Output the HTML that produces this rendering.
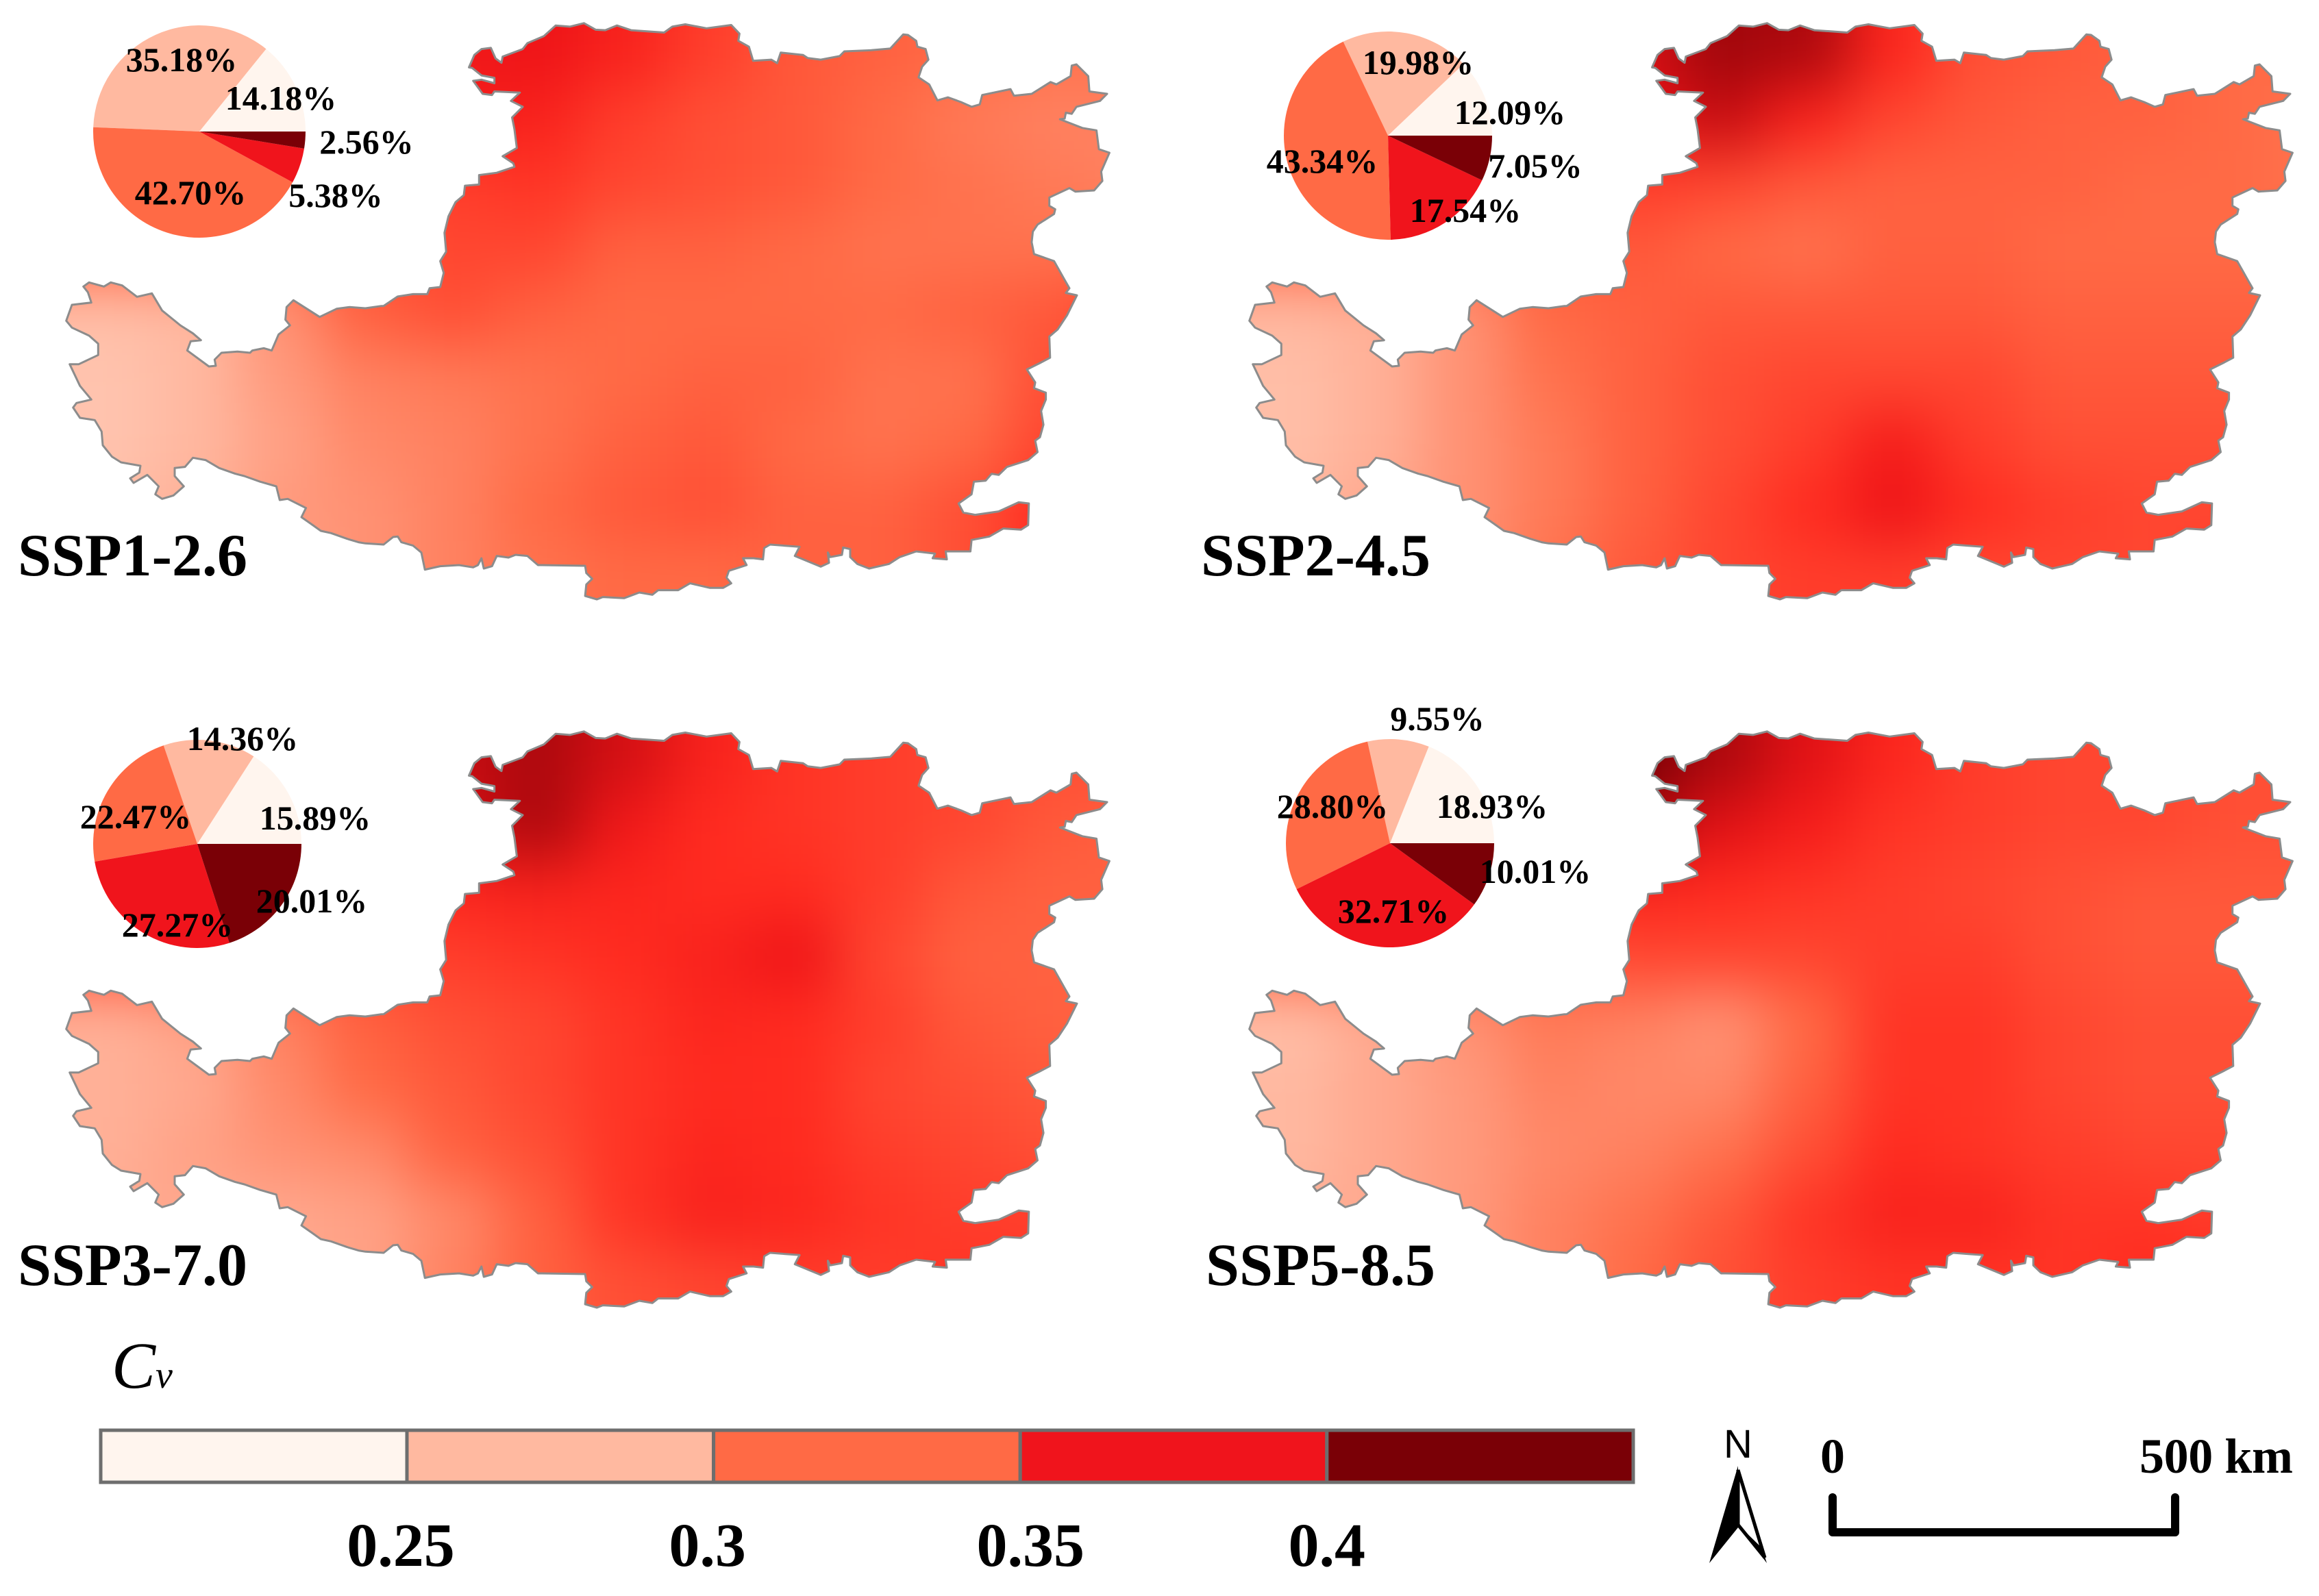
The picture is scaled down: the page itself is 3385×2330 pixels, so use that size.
<!DOCTYPE html>
<html lang="en">
<head>
<meta charset="utf-8">
<title>Cv maps under SSP scenarios</title>
<style>
html,body{margin:0;padding:0;background:#fff;}
svg{display:block;}
text{font-family:"Liberation Serif",serif;fill:#000;}
</style>
</head>
<body>
<svg id="figure" xmlns="http://www.w3.org/2000/svg" width="3385" height="2330" viewBox="0 0 3385 2330">
  <defs>
    <filter id="smooth" filterUnits="userSpaceOnUse" x="-300" y="-300" width="2300" height="1600" color-interpolation-filters="sRGB">
      <feGaussianBlur stdDeviation="42"/>
    </filter>
  </defs>
  <rect width="3385" height="2330" fill="#fff"/>
  <g id="panels"></g>

  <text x="163" y="2026" font-size="96" font-style="italic">C<tspan font-size="56">v</tspan></text>
  <g id="colorbar"></g>

  <g>
    <text x="2537" y="2128" font-size="58" text-anchor="middle" style="font-family:'Liberation Sans',sans-serif">N</text>
    <path d="M2537 2146 L2576 2274 L2537 2226 Z" fill="#fff" stroke="#000" stroke-width="5"/>
    <path d="M2537 2140 L2495 2282 L2537 2230 Z" fill="#000"/>
    <path d="M2537 2226 L2579 2282 L2572 2260 Z" fill="#000"/>
  </g>

  <g>
    <path d="M2675 2186 V2237 H3175 V2186" fill="none" stroke="#000" stroke-width="12" stroke-linecap="round" stroke-linejoin="round"/>
    <text x="2675" y="2150" font-size="72" font-weight="bold" text-anchor="middle">0</text>
    <text x="3123" y="2150" font-size="72" font-weight="bold" textLength="224">500 km</text>
  </g>
</svg>

<script>
// ---- Chart data ----
var scenarioNames = ["SSP1-2.6", "SSP2-4.5", "SSP3-7.0", "SSP5-8.5"];
var classNames = ["class-1", "class-2", "class-3", "class-4", "class-5"];
var classColors = ["#fff5ee", "#ffb9a0", "#ff6a45", "#f0141c", "#7a0006"];
var classBreaks = [0.25, 0.3, 0.35, 0.4];
var tickLabels = ["0.25", "0.3", "0.35", "0.4"];

var shareSsp126 = [14.18, 35.18, 42.70, 5.38, 2.56];
var shareSsp245 = [12.09, 19.98, 43.34, 17.54, 7.05];
var shareSsp370 = [15.89, 14.36, 22.47, 27.27, 20.01];
var shareSsp585 = [18.93, 9.55, 28.80, 32.71, 10.01];

// Cv field (rows north to south, columns west to east)
var cvSsp126 = [
 [.36,.36,.36,.37,.38,.385,.37,.35,.335,.33,.325,.32,.32],
 [.35,.35,.35,.36,.375,.37,.35,.34,.335,.325,.315,.31,.31],
 [.33,.33,.33,.345,.35,.355,.345,.34,.335,.325,.32,.315,.31],
 [.33,.33,.33,.34,.345,.345,.33,.33,.325,.32,.32,.32,.32],
 [.27,.275,.30,.33,.34,.33,.325,.325,.325,.325,.33,.335,.355],
 [.265,.275,.295,.31,.315,.32,.325,.33,.33,.32,.32,.34,.345],
 [.265,.275,.29,.305,.31,.32,.33,.335,.325,.32,.325,.345,.35],
 [.27,.28,.295,.30,.31,.325,.335,.34,.33,.33,.34,.36,.36],
 [.28,.285,.29,.30,.31,.32,.325,.325,.33,.33,.34,.36,.36]
];
var cvSsp245 = [
 [.38,.38,.38,.38,.395,.415,.41,.365,.34,.335,.33,.325,.325],
 [.37,.37,.37,.37,.385,.40,.37,.345,.335,.33,.33,.325,.32],
 [.34,.34,.34,.345,.35,.345,.335,.33,.33,.33,.325,.325,.32],
 [.33,.33,.33,.335,.335,.325,.32,.33,.33,.325,.325,.325,.325],
 [.275,.28,.30,.325,.33,.335,.335,.335,.335,.33,.33,.33,.33],
 [.27,.28,.30,.32,.33,.34,.345,.345,.345,.335,.335,.335,.335],
 [.27,.28,.30,.315,.33,.34,.35,.375,.35,.34,.34,.34,.34],
 [.275,.285,.30,.315,.33,.345,.36,.385,.36,.35,.345,.345,.345],
 [.29,.29,.30,.32,.335,.345,.35,.35,.345,.345,.345,.35,.35]
];
var cvSsp370 = [
 [.39,.39,.39,.39,.40,.41,.395,.37,.355,.35,.345,.34,.34],
 [.38,.38,.38,.385,.395,.41,.38,.36,.355,.35,.345,.335,.33],
 [.355,.355,.355,.355,.365,.37,.365,.36,.36,.35,.335,.33,.33],
 [.34,.34,.34,.345,.35,.355,.36,.37,.385,.345,.33,.33,.33],
 [.28,.29,.31,.33,.34,.345,.355,.365,.36,.35,.335,.33,.33],
 [.28,.285,.305,.325,.335,.345,.355,.36,.36,.345,.34,.335,.335],
 [.28,.29,.30,.305,.33,.34,.355,.365,.36,.35,.345,.34,.34],
 [.285,.285,.285,.29,.305,.33,.355,.37,.365,.355,.35,.35,.35],
 [.285,.285,.285,.29,.31,.33,.34,.345,.35,.35,.355,.35,.35]
];
var cvSsp585 = [
 [.44,.44,.44,.44,.44,.41,.39,.365,.35,.345,.345,.34,.34],
 [.41,.41,.41,.41,.41,.39,.375,.355,.35,.345,.345,.34,.34],
 [.35,.35,.35,.36,.365,.36,.355,.35,.345,.34,.335,.335,.335],
 [.33,.33,.33,.335,.345,.345,.345,.35,.35,.34,.335,.335,.335],
 [.27,.285,.30,.315,.31,.30,.325,.355,.355,.345,.34,.34,.34],
 [.275,.285,.295,.31,.305,.305,.33,.355,.355,.345,.34,.34,.34],
 [.275,.285,.295,.305,.31,.32,.34,.36,.355,.35,.345,.345,.345],
 [.28,.285,.295,.31,.32,.335,.355,.37,.37,.355,.355,.35,.35],
 [.285,.285,.295,.31,.325,.34,.35,.355,.355,.355,.36,.36,.36]
];

// ---- Layout (not data) ----
var SVGNS = "http://www.w3.org/2000/svg";
var layout = [
  {tx:0, ty:0, cx:291, cy:192, r:155, tX:26, tY:840, cv:cvSsp126, share:shareSsp126,
   lab:[[410,143],[265,87],[278,281],[490,285],[535,207]]},
  {tx:1727, ty:0, cx:2026, cy:198, r:152, tX:1753, tY:840, cv:cvSsp245, share:shareSsp245,
   lab:[[2204,164],[2070,91],[1930,235],[2139,307],[2241,242]]},
  {tx:0, ty:1034, cx:288, cy:1232, r:152, tX:26, tY:1876, cv:cvSsp370, share:shareSsp370,
   lab:[[460,1194],[354,1078],[198,1192],[259,1350],[455,1315]]},
  {tx:1727, ty:1034, cx:2029, cy:1231, r:152, tX:1760, tY:1876, cv:cvSsp585, share:shareSsp585,
   lab:[[2178,1177],[2098,1049],[1945,1177],[2034,1330],[2241,1272]]}
];

// Region outline, traced piecewise from the map (crop origin, crop scales, points)
var outlineTrace = [
 {ox:560, oy:20, kx:0.344, ky:0.344, pts:[[362,228],[385,175],[415,150],[455,145],[475,190],[500,208],[505,182],[590,150],[610,125],[680,95],[730,50],[790,55],[850,40],[900,68],[940,70],[990,50],[1050,70],[1190,80],[1225,55],[1280,45],[1370,62],[1475,48],[1510,85],[1505,115],[1550,140],[1568,200]]},
 {ox:1100, oy:20, kx:0.344, ky:0.344, pts:[[75,195],[100,210],[115,165],[210,175],[230,188],[285,195],[365,180],[385,160],[500,155],[580,148],[635,88],[655,90],[690,115],[695,140],[730,150],[742,195],[715,225],[700,270],[745,300],[780,368],[825,355],[880,375],[925,395],[960,385],[970,345],[1090,320],[1105,348],[1180,340],[1260,290],[1285,300],[1345,265],[1350,220],[1370,215],[1420,265],[1425,330],[1500,340],[1470,370],[1370,395],[1350,425],[1325,420],[1320,445],[1300,448],[1395,485],[1455,495],[1465,575],[1510,590],[1475,670],[1480,710],[1445,750],[1365,755],[1340,740],[1255,780],[1255,815],[1280,830],[1275,850],[1205,895],[1185,925],[1180,970],[1190,1020],[1275,1050],[1320,1130],[1340,1165],[1325,1185],[1372,1195],[1330,1280],[1290,1340],[1255,1370],[1258,1460],[1220,1480],[1160,1510]]},
 {ox:1100, oy:540, kx:0.344, ky:0.3333, pts:[[1195,55],[1190,80],[1240,100],[1240,130],[1220,180],[1230,240],[1215,295],[1195,310],[1205,360],[1165,395],[1075,425],[1040,460],[1010,455],[985,485],[935,490],[925,545],[870,585],[890,625],[940,635],[1040,620],[1125,580],[1168,585],[1165,680],[1135,700],[1060,695],[1000,730],[925,745],[920,795],[815,795],[820,830],[760,825],[770,805],[690,795],[620,820],[575,850],[490,870],[440,850],[410,820],[410,785],[380,778],[375,810],[325,820],[315,800],[320,845],[285,862],[175,815],[195,775],[130,770],[70,765],[45,780],[40,830],[0,825]]},
 {ox:560, oy:540, kx:0.344, ky:0.3333, pts:[[1525,825],[1540,855],[1465,880],[1455,910],[1475,935],[1440,955],[1385,955],[1300,935],[1250,965],[1165,965],[1140,985],[1085,975],[1020,1000],[930,995],[905,1005],[855,990],[860,940],[885,915],[860,890],[855,858],[670,855],[655,855],[610,815],[560,810],[530,822],[480,815],[460,860],[425,870],[415,825],[400,855],[380,865],[320,855],[240,860],[175,875],[160,800],[125,770],[75,755],[60,730],[40,732],[0,765]]},
 {ox:60, oy:380, kx:0.3333, ky:0.3333, pts:[[1420,1240],[1390,1235],[1340,1220],[1270,1195],[1225,1185],[1190,1160],[1140,1125],[1160,1085],[1080,1045],[1045,1050],[1030,990],[960,970],[890,945],[850,935],[780,910],[720,875],[665,865],[630,905],[585,910],[585,945],[625,990],[580,1030],[530,1045],[500,1025],[515,990],[465,940],[405,975],[390,955],[430,930],[435,900],[350,885],[310,860],[270,810],[265,750],[235,700],[170,690],[140,645],[155,625],[220,610],[170,550],[125,455],[165,455],[250,415],[250,365],[210,330],[135,295],[110,265],[135,195],[220,185],[205,140],[185,115],[210,97],[275,115],[305,97],[355,110],[420,160],[485,145],[530,220],[610,285],[665,320],[700,350],[655,355],[640,395],[735,465],[765,462],[760,435],[790,405],[860,400],[915,405],[925,395],[975,385],[1010,395],[1040,325],[1090,285],[1070,260],[1075,205],[1105,175],[1220,248],[1295,212],[1350,205],[1420,210],[1490,200]]},
 {ox:560, oy:20, kx:0.344, ky:0.344, pts:[[0,1240],[60,1200],[125,1190],[185,1190],[195,1165],[240,1160],[255,1100],[240,1050],[265,1010],[258,930],[275,860],[305,800],[340,770],[345,730],[405,725],[405,685],[480,675],[555,650],[550,635],[505,605],[565,570],[555,490],[545,440],[590,395],[540,370],[578,335],[470,330],[460,345],[420,340],[380,285],[415,280],[470,295],[470,272],[415,262],[375,230]]}
];

var outlineParts = [];
outlineTrace.forEach(function (seg) {
  seg.pts.forEach(function (pt) {
    var px = (seg.ox + pt[0] * seg.kx).toFixed(1);
    var py = (seg.oy + pt[1] * seg.ky).toFixed(1);
    outlineParts.push((outlineParts.length ? "L" : "M") + px + " " + py);
  });
});
var outlinePath = outlineParts.join(" ") + " Z";

// Axis functions for the Cv grid
var gridX0 = 98, gridCellW = 125, gridY0 = 30, gridCellH = 95;
function gridX(i) { return gridX0 + i * gridCellW; }
function gridY(j) { return gridY0 + j * gridCellH; }

// Continuous colour scale for Cv
var rampV = [0.22, 0.275, 0.325, 0.36, 0.385, 0.43];
var rampC = [[255,245,238],[255,184,160],[255,106,69],[255,43,32],[238,20,24],[122,0,6]];
function cvColor(v) {
  if (v <= rampV[0]) return "rgb(" + rampC[0].join(",") + ")";
  for (var k = 1; k < rampV.length; k++) {
    if (v <= rampV[k]) {
      var t = (v - rampV[k-1]) / (rampV[k] - rampV[k-1]);
      var c = rampC[k-1].map(function (a, n) { return Math.round(a + (rampC[k][n] - a) * t); });
      return "rgb(" + c.join(",") + ")";
    }
  }
  return "rgb(" + rampC[rampC.length-1].join(",") + ")";
}

function pieAngle(value, total) { return value / total * 2 * Math.PI; }

var panelsRoot = document.getElementById("panels");

layout.forEach(function (p, idx) {
  var slug = scenarioNames[idx].toLowerCase();

  var panel = document.createElementNS(SVGNS, "g");
  
  
  panelsRoot.appendChild(panel);

  // Map
  var map = document.createElementNS(SVGNS, "g");
  
  
  map.setAttribute("transform", "translate(" + p.tx + " " + p.ty + ")");
  panel.appendChild(map);

  var clip = document.createElementNS(SVGNS, "clipPath");
  clip.setAttribute("id", "clip" + idx);
  var clipShape = document.createElementNS(SVGNS, "path");
  clipShape.setAttribute("d", outlinePath);
  clip.appendChild(clipShape);
  map.appendChild(clip);

  var clipped = document.createElementNS(SVGNS, "g");
  clipped.setAttribute("clip-path", "url(#clip" + idx + ")");
  
  
  map.appendChild(clipped);

  var field = document.createElementNS(SVGNS, "g");
  field.setAttribute("filter", "url(#smooth)");
  
  
  clipped.appendChild(field);

  p.cv.forEach(function (row, j) {
    row.forEach(function (v, i) {
      var x = gridX(i), y = gridY(j), w = gridCellW + 1, h = gridCellH + 1;
      if (i === 0) { x -= 250; w += 250; }
      if (i === row.length - 1) { w += 250; }
      if (j === 0) { y -= 250; h += 250; }
      if (j === p.cv.length - 1) { h += 250; }
      var cell = document.createElementNS(SVGNS, "rect");
      
      
      cell.setAttribute("x", x);
      cell.setAttribute("y", y);
      cell.setAttribute("width", w);
      cell.setAttribute("height", h);
      cell.setAttribute("fill", cvColor(v));
      field.appendChild(cell);
    });
  });

  var border = document.createElementNS(SVGNS, "path");
  
  
  border.setAttribute("d", outlinePath);
  border.setAttribute("fill", "none");
  border.setAttribute("stroke", "#8c8c8c");
  border.setAttribute("stroke-width", "3");
  border.setAttribute("stroke-linejoin", "round");
  map.appendChild(border);

  // Pie
  var pie = document.createElementNS(SVGNS, "g");
  
  
  panel.appendChild(pie);

  var total = p.share.reduce(function (a, b) { return a + b; }, 0);
  var ang = 0;
  p.share.forEach(function (v, k) {
    var a0 = ang, a1 = ang + pieAngle(v, total);
    ang = a1;
    var x0 = p.cx + p.r * Math.cos(a0), y0 = p.cy - p.r * Math.sin(a0);
    var x1 = p.cx + p.r * Math.cos(a1), y1 = p.cy - p.r * Math.sin(a1);
    var large = (a1 - a0) > Math.PI ? 1 : 0;
    var slice = document.createElementNS(SVGNS, "path");
    
    
    slice.setAttribute("d", "M" + p.cx + " " + p.cy + " L" + x0 + " " + y0 + " A" + p.r + " " + p.r + " 0 " + large + " 0 " + x1 + " " + y1 + " Z");
    slice.setAttribute("fill", classColors[k]);
    pie.appendChild(slice);
  });

  p.share.forEach(function (v, k) {
    var label = document.createElementNS(SVGNS, "text");
    
    
    label.setAttribute("x", p.lab[k][0]);
    label.setAttribute("y", p.lab[k][1] + 17);
    label.setAttribute("text-anchor", "middle");
    label.setAttribute("font-size", "50");
    label.setAttribute("font-weight", "bold");
    label.textContent = v.toFixed(2) + "%";
    pie.appendChild(label);
  });

  // Title
  var title = document.createElementNS(SVGNS, "text");
  
  
  title.setAttribute("x", p.tX);
  title.setAttribute("y", p.tY);
  title.setAttribute("font-size", "88");
  title.setAttribute("font-weight", "bold");
  title.textContent = scenarioNames[idx];
  panel.appendChild(title);
});

// ---- Colorbar ----
var barLeft = 147, barTop = 2088, barHeight = 76, barRight = 2384;
var tickNudge = [-9, -9, 15, 0];
function barX(v) { return 594 + (v - classBreaks[0]) / (classBreaks[1] - classBreaks[0]) * 447.6; }
var barRoot = document.getElementById("colorbar");
classColors.forEach(function (color, k) {
  var left = k === 0 ? barLeft : barX(classBreaks[k-1]);
  var right = k === classColors.length - 1 ? barRight : barX(classBreaks[k]);
  var seg = document.createElementNS(SVGNS, "rect");
  
  
  seg.setAttribute("x", left);
  seg.setAttribute("y", barTop);
  seg.setAttribute("width", right - left);
  seg.setAttribute("height", barHeight);
  seg.setAttribute("fill", color);
  seg.setAttribute("stroke", "#6e6e6e");
  seg.setAttribute("stroke-width", "5");
  barRoot.appendChild(seg);
});
tickLabels.forEach(function (txt, k) {
  var tick = document.createElementNS(SVGNS, "text");
  
  
  tick.setAttribute("x", barX(classBreaks[k]) + tickNudge[k]);
  tick.setAttribute("y", 2286);
  tick.setAttribute("text-anchor", "middle");
  tick.setAttribute("font-size", "90");
  tick.setAttribute("font-weight", "bold");
  tick.textContent = txt;
  barRoot.appendChild(tick);
});
</script>
</body>
</html>
